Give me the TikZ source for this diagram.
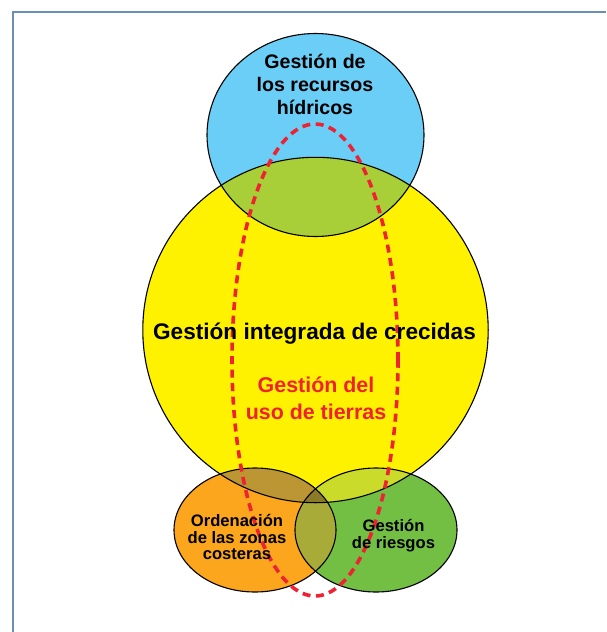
\documentclass[tikz,border=0pt]{standalone}
\usepackage{fontspec}
\setmainfont{Liberation Sans}
\usetikzlibrary{positioning}
\definecolor{blueC}{HTML}{6ACEF6}
\definecolor{yellowC}{HTML}{FFF200}
\definecolor{orangeC}{HTML}{FBA61C}
\definecolor{greenC}{HTML}{72BF44}
\definecolor{blueyellowC}{HTML}{A8CF38}
\definecolor{orangeyellowC}{HTML}{BC9632}
\definecolor{greenyellowC}{HTML}{CBDB2A}
\definecolor{orangegreenC}{HTML}{A9AB38}
\definecolor{tripleC}{HTML}{8B7A2A}
\definecolor{redC}{HTML}{EE2233}
\definecolor{frameC}{HTML}{6A8FB5}
\tikzset{
  outline/.style={draw=black,line width=1.1pt},
  tag/.style={align=center,inner sep=0pt,text=black},
}
\newcommand{\hydro}{(315.5,135) ellipse [x radius=108.5pt,y radius=101.5pt]}
\newcommand{\flood}{(315.5,330) circle [radius=172.7pt]}
\newcommand{\coast}{(255,530) ellipse [x radius=81pt,y radius=62pt]}
\newcommand{\risk}{(376,530) ellipse [x radius=81pt,y radius=62pt]}
\begin{document}
\begin{tikzpicture}[x=1pt,y=-1pt]
\useasboundingbox (0,0) rectangle (606,632);
\draw[frameC,line width=2pt] (13,632) -- (13,12) -- (606,12);
% fills
\fill[blueC] \hydro;
\fill[orangeC] \coast;
\fill[greenC] \risk;
\fill[yellowC] \flood;
\begin{scope}
\clip \hydro;
\fill[blueyellowC] \flood;
\end{scope}
\begin{scope}
\clip \flood;
\fill[orangeyellowC] \coast;
\fill[greenyellowC] \risk;
\end{scope}
\begin{scope}
\clip \coast;
\fill[orangegreenC] \risk;
\clip \risk;
\fill[tripleC] \flood;
\end{scope}
% outlines
\draw[outline] \hydro;
\draw[outline] \flood;
\draw[outline] \coast;
\draw[outline] \risk;
\draw[redC,line width=3.6pt,dash pattern=on 8pt off 5.5pt] (315,360) ellipse [x radius=83pt,y radius=236pt];
\node[tag,font=\fontsize{19.6}{22.8}\selectfont\bfseries] (hydroL) at (315,84.3) {Gestión de\\los recursos\\hídricos};
\node[tag,font=\fontsize{22.6}{24}\selectfont\bfseries] (floodL) at (314.5,334) {Gestión integrada de crecidas};
\node[tag,text=redC,font=\fontsize{21.4}{27}\selectfont\bfseries] (landL) at (316,398) {Gestión del\\uso de tierras};
\node[tag,font=\fontsize{16.6}{16.8}\selectfont\bfseries] (coastL) at (237,537) {Ordenación\\de las zonas\\costeras};
\node[tag,font=\fontsize{16.6}{17}\selectfont\bfseries] (riskL) at (393.5,536) {Gestión\\de riesgos};
\end{tikzpicture}
\end{document}
